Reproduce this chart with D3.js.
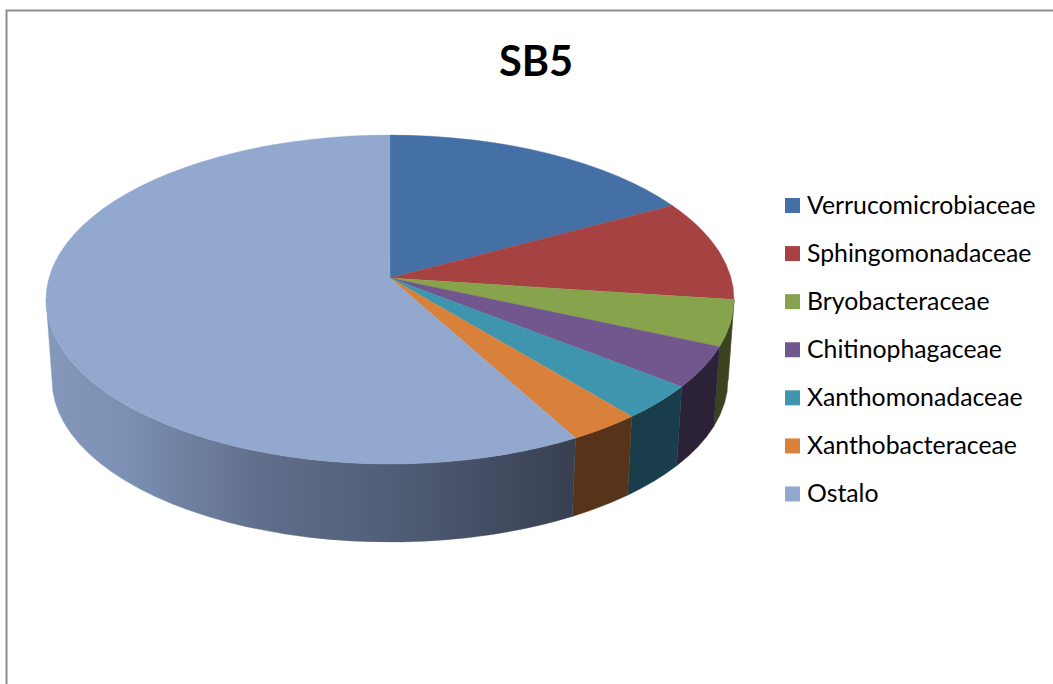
<!DOCTYPE html>
<html>
<head>
<meta charset="utf-8">
<script src="https://cdn.jsdelivr.net/npm/d3@7"></script>
<style>
  html, body { margin: 0; padding: 0; background: #fff; overflow: hidden; }
  text { font-family: Lato, "Open Sans", sans-serif; fill: #000; }
</style>
</head>
<body>
<svg id="chart" width="1053" height="684"></svg>
<script>
const categories = ["Verrucomicrobiaceae", "Sphingomonadaceae", "Bryobacteraceae", "Chitinophagaceae", "Xanthomonadaceae", "Xanthobacteraceae", "Ostalo"];
const values = [17.1, 10, 4.5, 4, 3.4, 3, 58];
const topColors = ["#4570a6", "#a64342", "#87a34c", "#71578d", "#3f95ae", "#d9803a", "#93a8ce"];
const wallColors = ["#2a4264", "#652827", "#39431f", "#2c2238", "#193d4a", "#573419", "url(#wallGrad)"];

const svg = d3.select("#chart");

// chart frame runs off the right and bottom of the picture
svg.append("rect")
  .attr("x", 6.5).attr("y", 10.5)
  .attr("width", 1100).attr("height", 740)
  .attr("fill", "#fff")
  .attr("stroke", "#8c8c8c")
  .attr("stroke-width", 2);

svg.append("text")
  .attr("x", 536).attr("y", 76)
  .attr("text-anchor", "middle")
  .attr("font-size", 41.5)
  .attr("font-weight", 700)
  .text("SB5");

// perspective pie: apex sits above the middle of the top ellipse
const apex = { x: 390, y: 278 };
const topEllipse = { cx: 390, cy: 299.5, rx: 344, ry: 164.5 };
const bottomEllipse = { cx: 390, cy: 380, rx: 338, ry: 162 };
const squeeze = 0.8767;

function project(angle) {
  // pie can overshoot 2pi by a rounding error, which flips atan2
  const a = Math.min(angle, 2 * Math.PI - 1e-6);
  return 2 * Math.atan2(squeeze * Math.sin(a / 2), Math.cos(a / 2));
}

function onEllipse(e, a) {
  return [e.cx + e.rx * Math.sin(a), e.cy - e.ry * Math.cos(a)];
}

function arcTo(e, a0, a1) {
  const p = onEllipse(e, a1);
  const large = Math.abs(a1 - a0) > Math.PI ? 1 : 0;
  const sweep = a1 > a0 ? 1 : 0;
  return "A" + e.rx + "," + e.ry + " 0 " + large + " " + sweep + " " + p[0] + "," + p[1];
}

const pie = d3.pie().sort(null).value(d => d)(values);

const defs = svg.append("defs");
const grad = defs.append("linearGradient")
  .attr("id", "wallGrad")
  .attr("gradientUnits", "userSpaceOnUse")
  .attr("x1", 46).attr("x2", 576).attr("y1", 0).attr("y2", 0);
[[0, "#8598bb"], [0.16, "#7a8fb1"], [0.4, "#616f8c"], [0.66, "#505d76"], [1, "#383f51"]].forEach(s => {
  grad.append("stop").attr("offset", s[0]).attr("stop-color", s[1]);
});

// side walls, only the part of the rim facing the viewer
const walls = svg.append("g");
pie.forEach((d, i) => {
  const a0 = Math.max(project(d.startAngle), Math.PI / 2);
  const a1 = Math.min(project(d.endAngle), Math.PI * 1.5);
  if (a1 <= a0) return;
  const start = onEllipse(topEllipse, a0);
  const lower = onEllipse(bottomEllipse, a1);
  const path = "M" + start[0] + "," + start[1]
    + arcTo(topEllipse, a0, a1)
    + "L" + lower[0] + "," + lower[1]
    + arcTo(bottomEllipse, a1, a0)
    + "Z";
  walls.append("path")
    .attr("d", path)
    .attr("fill", wallColors[i])
    .attr("stroke", wallColors[i])
    .attr("stroke-width", 0.4);
});

// top face
const faces = svg.append("g");
pie.forEach((d, i) => {
  const a0 = project(d.startAngle);
  const a1 = project(d.endAngle);
  const start = onEllipse(topEllipse, a0);
  const path = "M" + apex.x + "," + apex.y
    + "L" + start[0] + "," + start[1]
    + arcTo(topEllipse, a0, a1)
    + "Z";
  faces.append("path")
    .attr("d", path)
    .attr("fill", topColors[i])
    .attr("stroke", topColors[i])
    .attr("stroke-width", 0.4);
});

// legend
const legendY = d3.scalePoint().domain(categories).range([205.5, 494]);
const legend = svg.append("g");
categories.forEach((c, i) => {
  const y = legendY(c);
  legend.append("rect")
    .attr("x", 785).attr("y", y - 7.5)
    .attr("width", 15).attr("height", 15)
    .attr("fill", topColors[i]);
  legend.append("text")
    .attr("x", 807).attr("y", y + 8)
    .attr("font-size", 24.8)
    .text(c);
});
</script>
</body>
</html>
